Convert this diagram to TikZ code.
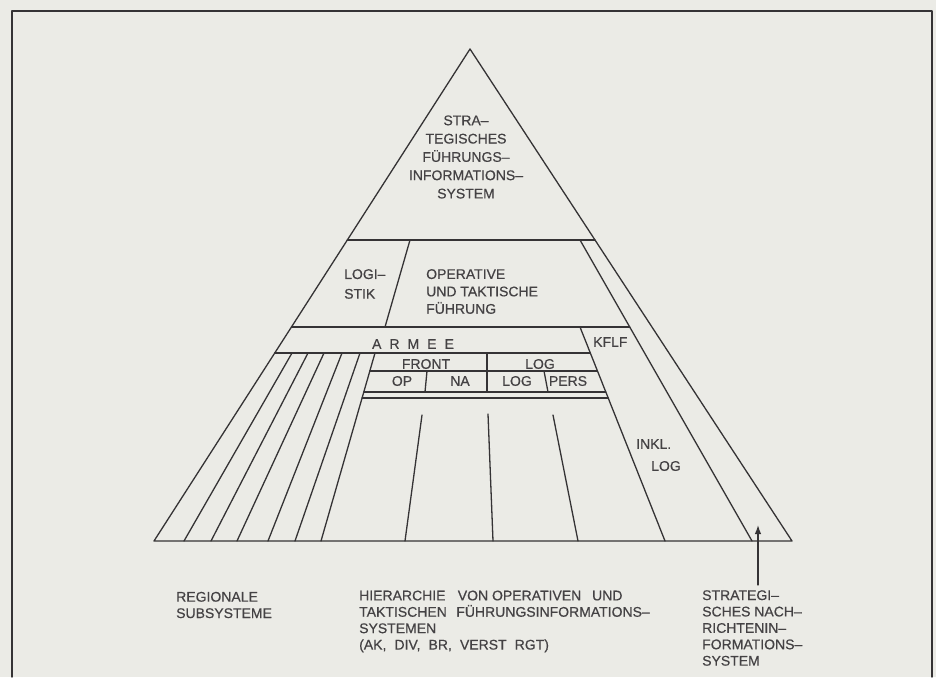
\documentclass[tikz,border=0pt]{standalone}
\usepackage{fontspec}
\setmainfont{Liberation Sans}[FakeBold=0.5]
\usetikzlibrary{arrows.meta}
\definecolor{paper}{HTML}{EBEBE6}
\definecolor{ink}{HTML}{353335}
\definecolor{txt}{HTML}{444244}
\begin{document}
\begin{tikzpicture}[x=1pt,y=-1pt,
  edge/.style={draw=ink,line width=1.3pt,line cap=round,line join=round},
  lbl/.style={text=txt,inner sep=0pt,font=\fontsize{14}{17}\selectfont},
  lblT/.style={lbl,font=\fontsize{14}{18.3}\selectfont},
  lblB/.style={lbl,font=\fontsize{14}{16.4}\selectfont},
  lblL/.style={lbl,font=\fontsize{14}{19.7}\selectfont},
  lblM/.style={lbl,font=\fontsize{14}{17.4}\selectfont}]
\fill[paper] (0,0) rectangle (936,677);
\useasboundingbox (0,0) rectangle (936,677);

% frame
\coordinate (f1) at (12,677);
\coordinate (f2) at (12,11);
\coordinate (f3) at (932,11);
\coordinate (f4) at (932,677);
\draw[edge,line width=1.4pt] (f1) -- (f2) -- (f3) -- (f4);

% main pyramid
\coordinate (apex) at (470,49);
\coordinate (bl) at (154,541);
\coordinate (br) at (792,541);
\draw[edge] (apex) -- (bl) -- (br) -- cycle;

% horizontal bands
\coordinate (h1l) at (347.3,240);
\coordinate (h1r) at (595,240);
\coordinate (h2l) at (291.4,327);
\coordinate (h2r) at (629.7,327);
\coordinate (h3l) at (274.7,353);
\coordinate (h3r) at (590.3,353);
\draw[edge] (h1l) -- (h1r);
\draw[edge] (h2l) -- (h2r);
\draw[edge] (h3l) -- (h3r);

% strategic communications strip and KFLF line
\coordinate (s0) at (580,240);
\coordinate (s1) at (752,541);
\coordinate (k0) at (580,327);
\coordinate (k1) at (665,541);
\draw[edge] (s0) -- (s1);
\draw[edge] (k0) -- (k1);

% logistik divider
\coordinate (lg0) at (410,240);
\coordinate (lg1) at (385,327);
\draw[edge] (lg0) -- (lg1);

% regional subsystems
\coordinate (r1t) at (292,353); \coordinate (r1b) at (184,541);
\coordinate (r2t) at (308,353); \coordinate (r2b) at (211,541);
\coordinate (r3t) at (324,353); \coordinate (r3b) at (237,541);
\coordinate (r4t) at (342,353); \coordinate (r4b) at (268,541);
\coordinate (r5t) at (360,353); \coordinate (r5b) at (295,541);
\coordinate (r6t) at (375,353); \coordinate (r6b) at (321,541);
\foreach \i in {1,...,6} {\draw[edge] (r\i t) -- (r\i b);}

% front / log box
\coordinate (b1l) at (369.8,371); \coordinate (b1r) at (597.5,371);
\coordinate (b2l) at (363.8,392); \coordinate (b2r) at (605.8,392);
\coordinate (b3l) at (362.1,398); \coordinate (b3r) at (608.2,398);
\draw[edge] (b1l) -- (b1r);
\draw[edge] (b2l) -- (b2r);
\draw[edge] (b3l) -- (b3r);
\coordinate (d1t) at (487,353); \coordinate (d1b) at (487,392);
\coordinate (d2t) at (427,371); \coordinate (d2b) at (425,392);
\coordinate (d3t) at (544,371); \coordinate (d3b) at (548,392);
\draw[edge] (d1t) -- (d1b);
\draw[edge] (d2t) -- (d2b);
\draw[edge] (d3t) -- (d3b);

% hierarchy lines
\coordinate (v1t) at (422,415); \coordinate (v1b) at (405,541);
\coordinate (v2t) at (488,414); \coordinate (v2b) at (493,541);
\coordinate (v3t) at (553,415); \coordinate (v3b) at (578,541);
\draw[edge] (v1t) -- (v1b);
\draw[edge] (v2t) -- (v2b);
\draw[edge] (v3t) -- (v3b);

% labels
\node[lblT,align=center] (sfis) at (466,157) {STRA–\\TEGISCHES\\FÜHRUNGS–\\INFORMATIONS–\\SYSTEM};
\node[lblL,align=left,anchor=west] (logi) at (344,284) {LOGI–\\STIK};
\node[lblM,align=left,anchor=west] (otf) at (426,291.5) {OPERATIVE\\UND TAKTISCHE\\FÜHRUNG};
\node[lbl] (armee) at (413,344) {A\hspace{8pt}R\hspace{8pt}M\hspace{8pt}E\hspace{8pt}E};
\node[lbl,anchor=west] (kflf) at (593,342) {KFLF};
\node[lbl] (front) at (426,364) {FRONT};
\node[lbl] (logA) at (540,364) {LOG};
\node[lbl] (op) at (402,381) {OP};
\node[lbl] (na) at (460,381) {NA};
\node[lbl] (logB) at (517,381) {LOG};
\node[lbl] (pers) at (568,381) {PERS};
\node[lbl,anchor=west] (inkl) at (636,444) {INKL.};
\node[lbl,anchor=west] (inkllog) at (651,466) {LOG};

\node[lblB,align=left,anchor=west] (reg) at (176,605) {REGIONALE\\SUBSYSTEME};
\node[lblB,align=left,anchor=west] (hier) at (359,621.5) {HIERARCHIE\hspace{0.6em} VON OPERATIVEN\hspace{0.5em} UND\\TAKTISCHEN\hspace{0.4em} FÜHRUNGSINFORMATIONS–\\SYSTEMEN\\(AK,\hspace{0.3em} DIV,\hspace{0.3em} BR,\hspace{0.3em} VERST\hspace{0.3em} RGT)};
\node[lblB,align=left,anchor=west] (snis) at (702,628) {STRATEGI–\\SCHES NACH–\\RICHTENIN–\\FORMATIONS–\\SYSTEM};

% arrow
\coordinate (arrS) at (758,585);
\coordinate (arrT) at (758,525);
\draw[edge,-{Latex[length=9pt,width=6.5pt]}] (arrS) -- (arrT);
\end{tikzpicture}
\end{document}
